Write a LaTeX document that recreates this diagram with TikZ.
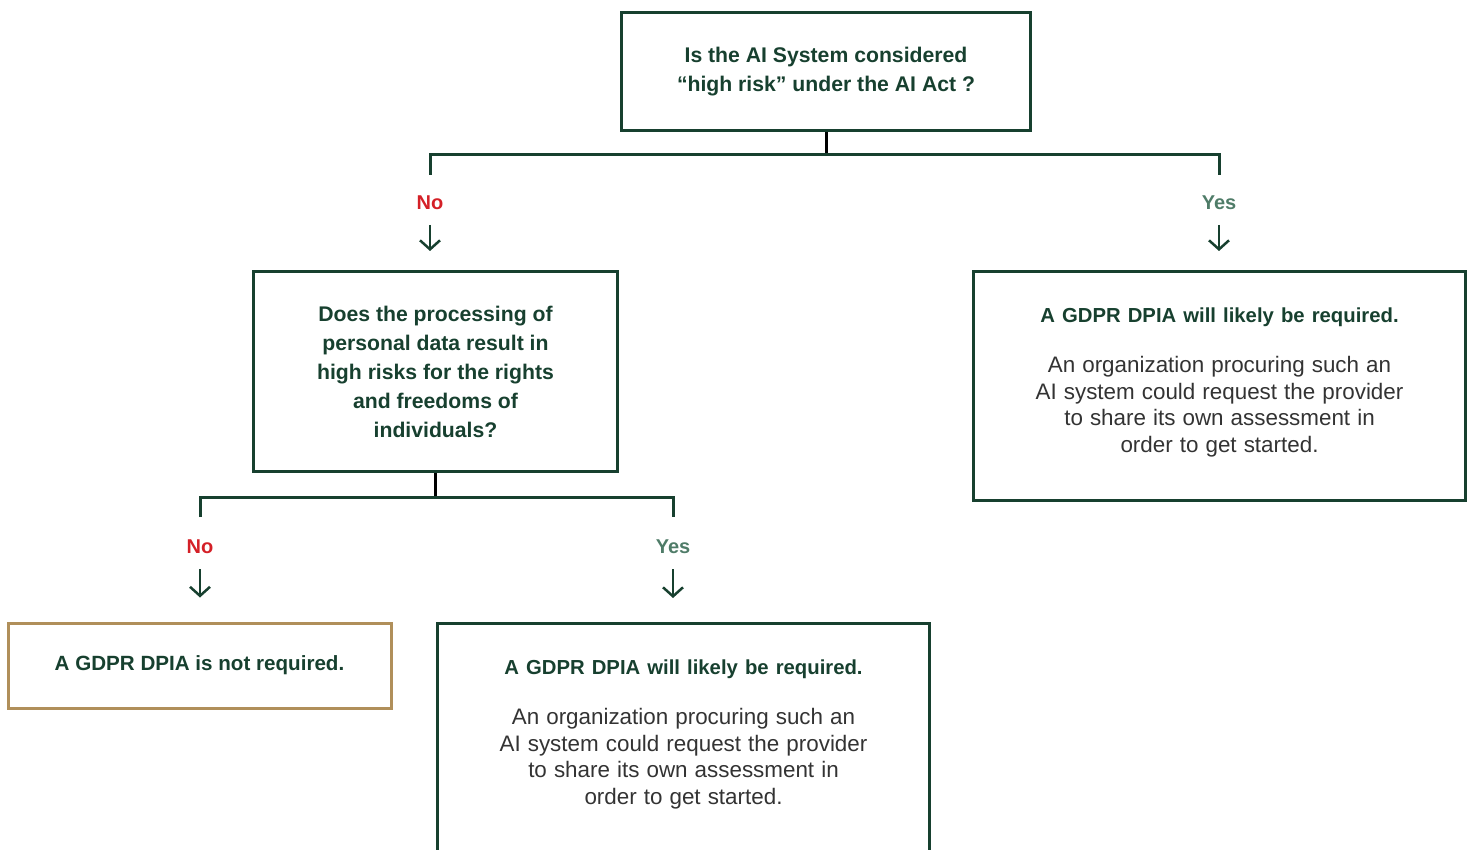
\documentclass[tikz,border=0pt]{standalone}
\usepackage{fontspec}
\setmainfont{Liberation Sans}
\usetikzlibrary{arrows.meta,positioning}
\definecolor{pine}{HTML}{17402F}
\definecolor{nored}{HTML}{D42027}
\definecolor{yesgreen}{HTML}{4F7C68}
\definecolor{sand}{HTML}{B08F5A}
\definecolor{bodygrey}{HTML}{333333}
\newcommand{\likelytext}{%
  {\fontsize{20.3}{26.7}\selectfont\bfseries\color{pine}A GDPR DPIA will likely be required.\par}
  \vspace{23pt}
  {\fontsize{22.4}{26.7}\selectfont\mdseries\color{bodygrey}An organization procuring such an\\
   AI system could request the provider\\
   to share its own assessment in\\
   order to get started.\par}
  \vspace{7pt}}
\begin{document}
\begin{tikzpicture}[x=1pt, y=-1pt,
  box/.style={draw=pine, line width=3pt, inner sep=0pt, align=center, text=pine,
    font=\fontsize{21.2}{29}\selectfont\bfseries},
  answer/.style={box, minimum width=492pt, minimum height=229pt, text width=480pt},
  branch/.style={draw=pine, line width=3pt},
  stub/.style={draw=black, line width=3pt},
  down/.style={draw=pine, line width=2.5pt, -{Straight Barb[length=9pt,width=20pt,line width=2.5pt]}},
  nolabel/.style={text=nored, font=\fontsize{20}{24}\selectfont\bfseries, inner sep=0pt},
  yeslabel/.style={text=yesgreen, font=\fontsize{20}{24}\selectfont\bfseries, inner sep=0pt}]
\useasboundingbox (0,0) rectangle (1471,850);
\clip (0,0) rectangle (1471,850);
% questions
\node[box, minimum width=409pt, minimum height=118pt] (q1) at (826,71.5)
  {Is the AI System considered\\ ``high risk'' under the AI Act ?};
\node[box, minimum width=364pt, minimum height=200pt] (q2) at (435.5,371.5)
  {Does the processing of\\ personal data result in\\ high risks for the rights\\ and freedoms of\\ individuals?};
% outcomes
\node[answer] (a1) at (1219.5,386) {\likelytext};
\node[answer] (a2) at (683.5,738) {\likelytext};
\node[box, draw=sand, minimum width=383pt, minimum height=85pt, font=\fontsize{20.6}{24}\selectfont\bfseries] (a3) at (199.5,665.5)
  {A GDPR DPIA is not required.};
% first split
\node[nolabel] (no1) at (430,203) {No};
\node[yeslabel] (yes1) at (1219,203) {Yes};
\draw[stub] (q1.south) -- ++(0,23) coordinate (split1);
\draw[branch] ([yshift=28pt]no1.center) |- (split1) -| ([yshift=28pt]yes1.center);
\draw[down, shorten >=19pt] ([yshift=-22pt]no1.center) -- (no1 |- q2.north);
\draw[down, shorten >=19pt] ([yshift=-22pt]yes1.center) -- (yes1 |- a1.north);
% second split
\node[nolabel] (no2) at (200,547) {No};
\node[yeslabel] (yes2) at (673,547) {Yes};
\draw[stub] (q2.south) -- ++(0,24) coordinate (split2);
\draw[branch] ([yshift=30pt]no2.center) |- (split2) -| ([yshift=30pt]yes2.center);
\draw[down, shorten >=24pt] ([yshift=-22pt]no2.center) -- (no2 |- a3.north);
\draw[down, shorten >=24pt] ([yshift=-22pt]yes2.center) -- (yes2 |- a2.north);
\end{tikzpicture}
\end{document}
